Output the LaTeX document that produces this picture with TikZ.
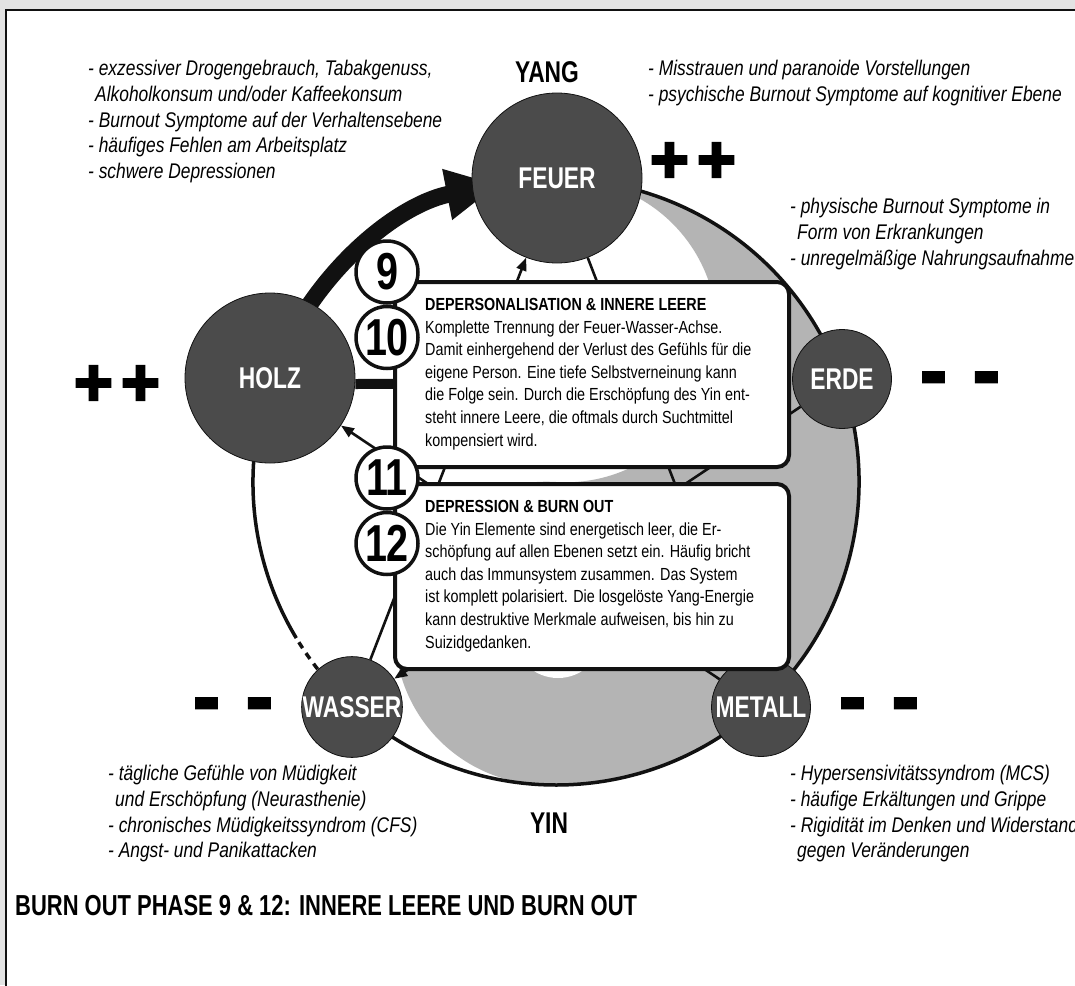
\documentclass[tikz,border=0pt]{standalone}
\usepackage{fontspec}
\setmainfont{Liberation Sans}[FakeStretch=0.82]
\newfontfamily\numfont{Liberation Sans}[FakeStretch=0.76]
\newfontfamily\signfont{Liberation Sans}[FakeBold=4]
\usepackage{tikz}
\usetikzlibrary{arrows.meta,calc,positioning}
\definecolor{ink}{HTML}{111111}
\definecolor{element}{HTML}{4B4B4B}
\definecolor{yin}{HTML}{B4B4B4}
\definecolor{rahmen}{HTML}{E3E3E3}
\tikzset{
  element/.style={circle,draw=ink,line width=0.8pt,fill=element,text=white,inner sep=0pt,font=\numfont\bfseries\fontsize{30}{30}\selectfont},
  ko/.style={ink,line width=2.6pt,-{Triangle[length=13pt,width=10pt]}},
  phase/.style={draw=ink,fill=white,line width=4pt,rounded corners=12pt,minimum width=394pt,minimum height=185pt,anchor=north west,inner sep=0pt},
  phasetext/.style={anchor=north west,inner sep=0pt,align=left,font=\fontsize{17.5}{22.6}\selectfont},
  nummer/.style={circle,draw=ink,fill=white,line width=3.5pt,minimum size=62pt,inner sep=0pt,font=\numfont\bfseries\fontsize{52}{52}\selectfont},
  notiz/.style={anchor=north west,inner sep=0pt,align=left,font=\itshape\fontsize{21.2}{25.8}\selectfont},
  plus/.style={anchor=base,inner sep=0pt,font=\signfont\bfseries\fontsize{66}{66}\selectfont},
  minus/.style={anchor=base,inner sep=0pt,font=\signfont\bfseries\fontsize{78}{78}\selectfont},
  achse/.style={inner sep=0pt,font=\numfont\bfseries\fontsize{30}{30}\selectfont}
}
\begin{document}
\begin{tikzpicture}[x=1pt,y=-1pt]
\useasboundingbox (0,0) rectangle (1075,985);
\clip (0,0) rectangle (1075,985);
\fill[rahmen] (0,0) rectangle (1075,985);
\draw[ink,line width=2.5pt,fill=white] (6,10) rectangle (1110,1010);
\coordinate (mitte) at (556,482);
\fill[yin] ($(mitte)+(-86.4:303)$) arc[start angle=-86.4,end angle=93.6,radius=303]
  arc[start angle=93.6,end angle=273.6,radius=151.5]
  arc[start angle=93.6,end angle=-86.4,radius=151.5] -- cycle;
\fill[white] (558,633) circle[radius=45];
\draw[ink,line width=3.5pt] ($(mitte)+(149:303)$) arc[start angle=149,end angle=492,radius=303];
\draw[ink,line width=3.5pt,dash pattern=on 7pt off 6pt] ($(mitte)+(132:303)$) arc[start angle=132,end angle=149,radius=303];
\draw[ink,line width=17pt,-{Triangle[length=52pt,width=48pt]}] ($(mitte)+(200:303)$) arc[start angle=200,end angle=259,radius=303];
\node[element,minimum size=170pt] (feuer) at (557,178) {FEUER};
\node[element,minimum size=170pt] (holz) at (270,378) {HOLZ};
\node[element,minimum size=99pt] (erde) at (842,379) {ERDE};
\node[element,minimum size=99pt] (metall) at (761,707) {METALL};
\node[element,minimum size=99pt] (wasser) at (352,707) {WASSER};
\draw[ko] (wasser) -- (feuer);
\draw[ko] (feuer) -- (metall);
\draw[ko] (metall) -- (holz);
\draw[ko] (erde) -- (wasser);
\draw[ink,line width=10pt,-{Triangle[length=28pt,width=24pt]}] ([yshift=-6pt]holz.east) -- ([yshift=-4pt]erde.west);
\node[phase] (box1) at (393,280) {};
\node[phase] (box2) at (393,482) {};
\node[phasetext,below right=18pt and 32pt of box1.north west] (text1) {\textbf{DEPERSONALISATION \& INNERE LEERE}\\
Komplette Trennung der Feuer-Wasser-Achse.\\
Damit einhergehend der Verlust des Gefühls für die\\
eigene Person. Eine tiefe Selbstverneinung kann\\
die Folge sein. Durch die Erschöpfung des Yin ent-\\
steht innere Leere, die oftmals durch Suchtmittel\\
kompensiert wird.};
\node[phasetext,below right=18pt and 32pt of box2.north west] (text2) {\textbf{DEPRESSION \& BURN OUT}\\
Die Yin Elemente sind energetisch leer, die Er-\\
schöpfung auf allen Ebenen setzt ein. Häufig bricht\\
auch das Immunsystem zusammen. Das System\\
ist komplett polarisiert. Die losgelöste Yang-Energie\\
kann destruktive Merkmale aufweisen, bis hin zu\\
Suizidgedanken.};
\node[nummer] (n9) at (387,272) {9};
\node[nummer,below=0pt of n9] (n10) {10};
\node[nummer] (n11) at (387,478) {11};
\node[nummer,below=0pt of n11] (n12) {12};
\node[achse] (yang) at (547,72) {YANG};
\node[achse] (yin) at (549,823) {YIN};
\node[plus] (pfeuer) at (693,182) {+\hspace{8.5pt}+};
\node[plus] (pholz) at (117,405) {+\hspace{8.5pt}+};
\node[minus] (merde) at (960,397.5) {-\hspace{27pt}-};
\node[minus] (mwasser) at (233,723.5) {-\hspace{27pt}-};
\node[minus] (mmetall) at (879,723.5) {-\hspace{27pt}-};
\node[notiz] (links) at (88,60) {- exzessiver Drogengebrauch, Tabakgenuss,\\
\hspace*{7pt}Alkoholkonsum und/oder Kaffeekonsum\\
- Burnout Symptome auf der Verhaltensebene\\
- häufiges Fehlen am Arbeitsplatz\\
- schwere Depressionen};
\node[notiz] (oben) at (648,60) {- Misstrauen und paranoide Vorstellungen\\
- psychische Burnout Symptome auf kognitiver Ebene};
\node[notiz] (rechts) at (790,198) {- physische Burnout Symptome in\\
\hspace*{7pt}Form von Erkrankungen\\
- unregelmäßige Nahrungsaufnahme};
\node[notiz] (untenlinks) at (108,765) {- tägliche Gefühle von Müdigkeit\\
\hspace*{7pt}und Erschöpfung (Neurasthenie)\\
- chronisches Müdigkeitssyndrom (CFS)\\
- Angst- und Panikattacken};
\node[notiz] (untenrechts) at (790,765) {- Hypersensivitätssyndrom (MCS)\\
- häufige Erkältungen und Grippe\\
- Rigidität im Denken und Widerstand\\
\hspace*{7pt}gegen Veränderungen};
\node[anchor=base west,inner sep=0pt,font=\numfont\bfseries\fontsize{28.9}{28.9}\selectfont] (titel) at (15,915) {BURN OUT PHASE 9 \& 12: INNERE LEERE UND BURN OUT};
\end{tikzpicture}
\end{document}
